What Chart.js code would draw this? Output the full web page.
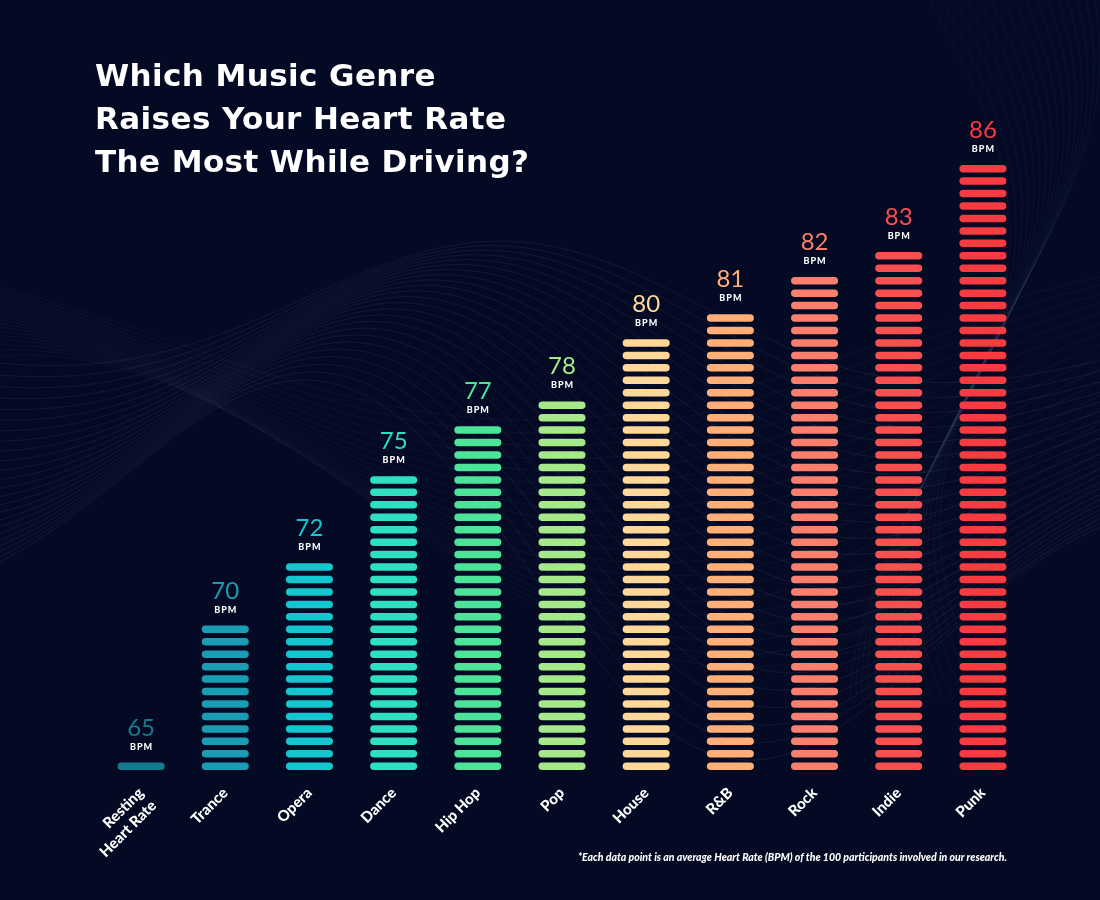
<!DOCTYPE html>
<html>
<head>
<meta charset="utf-8">
<script src="https://cdn.jsdelivr.net/npm/chart.js@4.4.1/dist/chart.umd.min.js"></script>
<style>
  html, body { margin: 0; padding: 0; background: #040a23; }
  #wrap { position: relative; width: 1100px; height: 900px; overflow: hidden; }
  #chart { position: absolute; left: 0; top: 0; }
  h1 {
    position: absolute; left: 95px; top: 54px; margin: 0;
    font-family: 'DejaVu Sans', sans-serif; font-weight: 700; font-size: 31px;
    line-height: 43px; color: #ffffff; letter-spacing: 0.4px;
  }
  .note {
    position: absolute; right: 93px; top: 851px;
    font-family: 'Lato', sans-serif; font-weight: 900; font-style: italic;
    font-size: 10.5px; color: #ffffff;
  }
</style>
</head>
<body>
<div id="wrap">
  <canvas id="chart" width="1100" height="900"></canvas>
  <h1>Which Music Genre<br>Raises Your Heart Rate<br>The Most While Driving?</h1>
  <div class="note">*Each data point is an average Heart Rate (BPM) of the 100 participants involved in our research.</div>
</div>
<script>
const genres = [['Resting', 'Heart Rate'], 'Trance', 'Opera', 'Dance', 'Hip Hop', 'Pop', 'House', 'R&B', 'Rock', 'Indie', 'Punk'];
const bpmValues = [65, 70, 72, 75, 77, 78, 80, 81, 82, 83, 86];
const barColors = ['#167a8e', '#1a9cb5', '#14c6cf', '#2edfc0', '#4de49a', '#a6e98a', '#ffd899', '#ffae78', '#fb7f6c', '#f8504e', '#f83b40'];
const unitLabel = 'BPM';

// faint wave lines in the background
const wavesBackground = {
  id: 'wavesBackground',
  beforeDraw(chart) {
    const { ctx, width, height } = chart;
    ctx.save();
    ctx.fillStyle = '#040a23';
    ctx.fillRect(0, 0, width, height);
    ctx.lineWidth = 0.8;
    ctx.strokeStyle = 'rgba(150, 160, 200, 0.13)';
    for (let i = 0; i < 24; i++) {
      ctx.beginPath();
      for (let x = -20; x <= width + 20; x += 6) {
        const amp = 90 + i * 6;
        const env = Math.exp(-((x - 560) ** 2) / 320000);
        const y = 450 + (i - 12) * 10 - amp * Math.sin(x / 165 - 1.4 + i * 0.06) * env;
        if (x === -20) ctx.moveTo(x, y); else ctx.lineTo(x, y);
      }
      ctx.stroke();
    }
    ctx.strokeStyle = 'rgba(150, 160, 200, 0.08)';
    for (let i = 0; i < 20; i++) {
      ctx.beginPath();
      for (let x = -20; x <= width + 20; x += 6) {
        const y = 430 + (i - 10) * 9 + (80 + i * 4) * Math.cos(x / 230 - 2.3 - i * 0.05);
        if (x === -20) ctx.moveTo(x, y); else ctx.lineTo(x, y);
      }
      ctx.stroke();
    }
    // ribbons near the top right corner
    ctx.strokeStyle = 'rgba(150, 160, 200, 0.07)';
    for (let i = 0; i < 16; i++) {
      ctx.beginPath();
      for (let y = -20; y <= 700; y += 6) {
        const x = 930 + i * 6 + 80 * Math.sin(y / 150 + i * 0.08);
        if (y === -20) ctx.moveTo(x, y); else ctx.lineTo(x, y);
      }
      ctx.stroke();
    }
    ctx.restore();
  }
};

// draw each bar as a stack of rounded stripes + value labels
const stripedBars = {
  id: 'stripedBars',
  afterDatasetsDraw(chart) {
    const { ctx } = chart;
    const yScale = chart.scales.y;
    const base = yScale.getPixelForValue(yScale.min);
    const meta = chart.getDatasetMeta(0);
    const pitch = 12.45, h = 7.5;
    ctx.save();
    meta.data.forEach((bar, i) => {
      const { x, y, width } = bar.getProps(['x', 'y', 'width'], true);
      const n = Math.max(Math.floor((base - y - h) / pitch) + 1, 1);
      ctx.fillStyle = barColors[i];
      for (let k = 0; k < n; k++) {
        ctx.beginPath();
        ctx.roundRect(x - width / 2, base - k * pitch - h, width, h, h / 2);
        ctx.fill();
      }
      const stripeTop = base - (n - 1) * pitch - h;
      ctx.textAlign = 'center';
      ctx.textBaseline = 'alphabetic';
      ctx.fillStyle = barColors[i];
      ctx.font = '400 24px Lato';
      ctx.fillText(String(bpmValues[i]), x, stripeTop - 27);
      ctx.fillStyle = '#ffffff';
      ctx.font = '900 9px Lato';
      ctx.letterSpacing = '1px';
      ctx.fillText(unitLabel, x + 0.5, stripeTop - 13);
      ctx.letterSpacing = '0px';
    });
    ctx.restore();
  }
};

new Chart(document.getElementById('chart').getContext('2d'), {
  type: 'bar',
  data: {
    labels: genres,
    datasets: [{
      data: bpmValues,
      backgroundColor: 'rgba(0,0,0,0)',
      barThickness: 47
    }]
  },
  options: {
    responsive: false,
    animation: false,
    layout: { padding: { top: 100, left: 99, right: 75, bottom: 0 } },
    plugins: {
      legend: { display: false },
      tooltip: { enabled: false }
    },
    scales: {
      x: {
        grid: { display: false, drawTicks: false },
        border: { display: false },
        ticks: {
          color: '#ffffff',
          font: { family: 'Lato', weight: '900', size: 15 },
          minRotation: 45,
          maxRotation: 45,
          autoSkip: false,
          padding: 14
        },
        afterFit: (axis) => { axis.height = 130; }
      },
      y: {
        display: false,
        min: 64.6,
        max: 88.2
      }
    }
  },
  plugins: [wavesBackground, stripedBars]
});
</script>
</body>
</html>
